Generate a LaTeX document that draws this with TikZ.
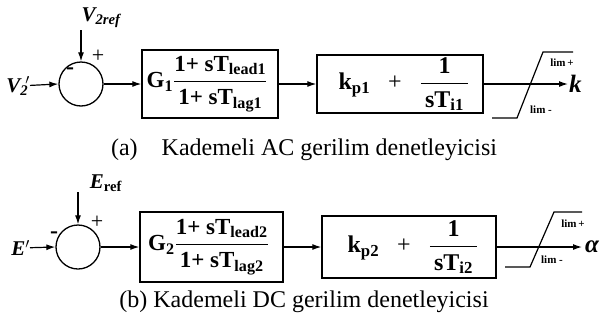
\documentclass[tikz,border=0pt]{standalone}
\usepackage{fontspec}
\setmainfont{Liberation Serif}
\usepackage{amsmath}
\usetikzlibrary{arrows.meta}
\newcommand{\bx}[1]{\text{\bfseries #1}}
\tikzset{
  blk/.style={draw, line width=1.3pt, inner sep=0pt},
  sumc/.style={draw, circle, line width=1.3pt, minimum size=44pt, inner sep=0pt},
  sig/.style={line width=1.2pt, -{Latex[length=9pt,width=6pt]}},
  limline/.style={line width=1.2pt},
  boxtxt/.style={font=\fontsize{23}{27}\selectfont},
  pitxt/.style={font=\fontsize{24}{28}\selectfont},
  caption/.style={font=\fontsize{24}{28}\selectfont},
  lbl/.style={font=\fontsize{21}{25}\selectfont\bfseries\itshape, inner sep=0pt},
  outlbl/.style={font=\fontsize{25}{29}\selectfont\bfseries\itshape, inner sep=0pt},
  limtxt/.style={font=\fontsize{11}{13}\selectfont\bfseries, inner sep=0pt},
  sgn/.style={font=\fontsize{22}{24}\selectfont, inner sep=0pt},
  msgn/.style={font=\fontsize{24}{26}\selectfont\bfseries, inner sep=0pt}
}
\begin{document}
\begin{tikzpicture}[x=1pt,y=-1pt]
\useasboundingbox (0,0) rectangle (607,327);
% ---------- (a) ----------
\node[sumc] (s1) at (81,84) {};
\node[lbl] (v2ref) at (101,18) {V\textsubscript{2ref}};
\coordinate (r1) at (81,30);
\node[lbl, anchor=east] (v2) at (30,86) {V\textsubscript{2}\hspace{-3pt}$'$};
\node[sgn] (p1) at (98,56) {+};
\node[msgn] (m1) at (70,71) {-};
\node[blk, minimum width=136pt, minimum height=68pt] (g1) at (210,84) {};
\node[boxtxt] at ([xshift=-3pt]g1) {$\bx{G}_{\bx{1}}\dfrac{\bx{1+ sT}_{\bx{lead1}}}{\bx{1+ sT}_{\bx{lag1}}}$};
\node[blk, minimum width=166pt, minimum height=58pt] (k1) at (400,84) {};
\node[pitxt] at ([xshift=4pt]k1) {$\bx{k}_{\bx{p1}}\ \ \ \text{+}\ \ \ \dfrac{\,\bx{1}\,}{\,\bx{sT}_{\bx{i1}}\,}$};
\coordinate (o1) at (568,84);
\node[outlbl, anchor=west] (kout) at ([xshift=1pt]o1) {k};
\draw[sig] (r1) -- (s1.north);
\draw[sig] (v2) -- (s1.west);
\draw[sig] (s1.east) -- (g1.west);
\draw[sig] (g1.east) -- (k1.west);
\draw[sig] (k1.east) -- (o1);
\draw[limline] (492,118) -- (517,118) -- (543,52) -- (573,52);
\node[limtxt] at (562,63) {lim\,+};
\node[limtxt] at (541,110) {lim -};
\node[caption] (ca) at (304,150) {(a)\quad Kademeli AC gerilim denetleyicisi};
% ---------- (b) ----------
\node[sumc] (s2) at (78,247) {};
\node[lbl] (eref) at (106,183) {E\textsubscript{\upshape ref}};
\coordinate (r2) at (78,192);
\node[lbl, anchor=east] (e2) at (30,248) {E$'$};
\node[sgn] (p2) at (97,222) {+};
\node[msgn] (m2) at (54,235) {-};
\node[blk, minimum width=143pt, minimum height=70pt] (g2) at (211.5,247) {};
\node[boxtxt] at ([xshift=-3pt]g2) {$\bx{G}_{\bx{2}}\dfrac{\bx{1+ sT}_{\bx{lead2}}}{\bx{1+ sT}_{\bx{lag2}}}$};
\node[blk, minimum width=174pt, minimum height=62pt] (k2) at (409,247) {};
\node[pitxt] at ([xshift=4pt]k2) {$\bx{k}_{\bx{p2}}\ \ \ \text{+}\ \ \ \dfrac{\,\bx{1}\,}{\,\bx{sT}_{\bx{i2}}\,}$};
\coordinate (o2) at (582,247);
\node[outlbl, anchor=west] (aout) at ([xshift=3pt]o2) {α};
\draw[sig] (r2) -- (s2.north);
\draw[sig] (e2) -- (s2.west);
\draw[sig] (s2.east) -- (g2.west);
\draw[sig] (g2.east) -- (k2.west);
\draw[sig] (k2.east) -- (o2);
\draw[limline] (505,267) -- (530,267) -- (554,212) -- (582,212);
\node[limtxt] at (573,224) {lim\,+};
\node[limtxt] at (552,260) {lim -};
\node[caption] (cb) at (304,302) {(b) Kademeli DC gerilim denetleyicisi};
\end{tikzpicture}
\end{document}
